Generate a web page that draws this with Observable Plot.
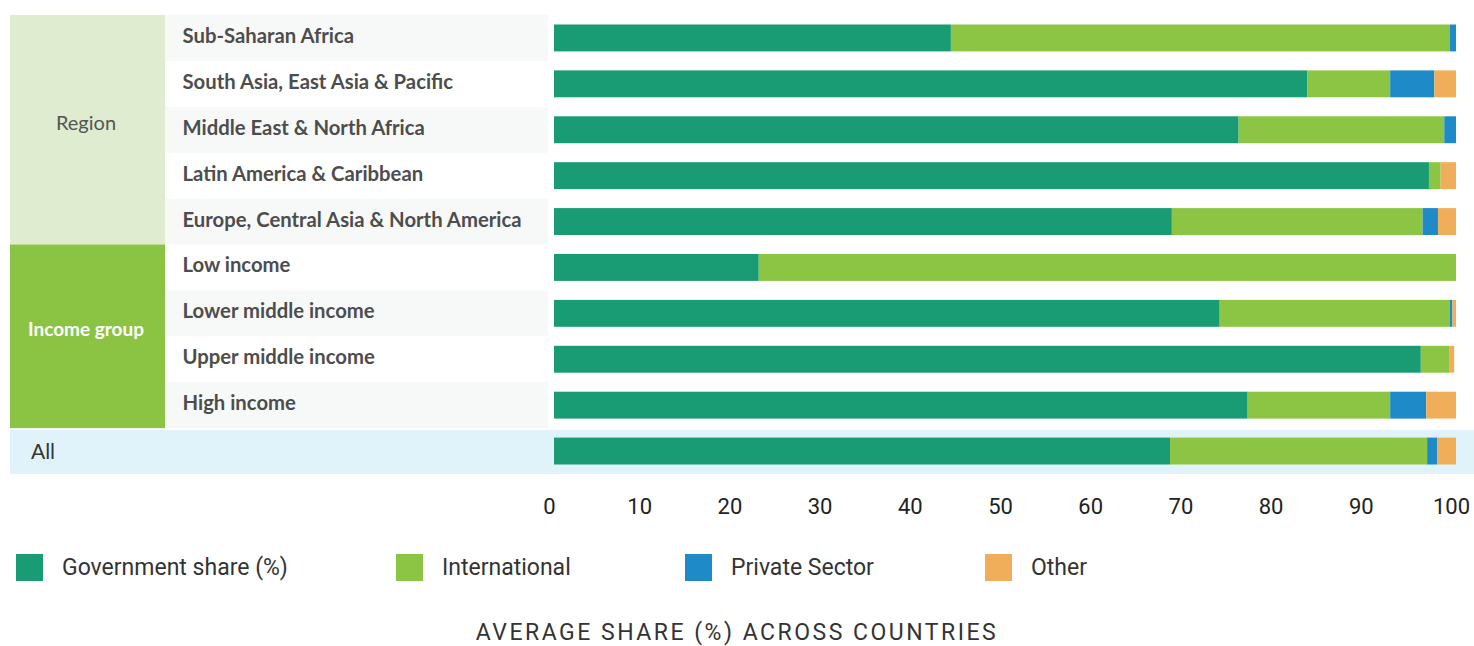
<!DOCTYPE html>
<html>
<head>
<meta charset="utf-8">
<script src="https://cdn.jsdelivr.net/npm/d3@7"></script>
<script src="https://cdn.jsdelivr.net/npm/@observablehq/plot@0.6"></script>
<style>
  html, body { margin: 0; padding: 0; background: #fff; }
  #wrap { position: relative; width: 1474px; height: 646px; overflow: hidden; }
  #chart { position: absolute; top: 0; left: 0; }
  #chart svg { display: block; }
  .legend { position: absolute; top: 554px; left: 0; width: 1474px; height: 28px; }
  .item { position: absolute; top: 0; display: flex; align-items: center; height: 27px; }
  .swatch { width: 27px; height: 27px; margin-right: 19px; }
  .item span { font-family: "Roboto", sans-serif; font-size: 23px; font-weight: 400; color: #333; }
  .title { position: absolute; top: 619px; left: 0; width: 1474px; text-align: center;
           font-family: "Roboto", sans-serif; font-size: 23px; letter-spacing: 2.5px; color: #333; }
</style>
</head>
<body>
<div id="wrap">
  <div id="chart"></div>
  <div class="legend" id="legend"></div>
  <div class="title">AVERAGE SHARE (%) ACROSS COUNTRIES</div>
</div>
<script>
// ---- data ----
const categories = [
  "Sub-Saharan Africa",
  "South Asia, East Asia & Pacific",
  "Middle East & North Africa",
  "Latin America & Caribbean",
  "Europe, Central Asia & North America",
  "Low income",
  "Lower middle income",
  "Upper middle income",
  "High income",
  "All"
];
const groups = ["Region", "Region", "Region", "Region", "Region",
  "Income group", "Income group", "Income group", "Income group", "All"];
const sources = ["Government share (%)", "International", "Private Sector", "Other"];
const government    = [44.0, 83.5, 75.9, 97.0, 68.5, 22.7, 73.8, 96.1, 76.9, 68.3];
const international = [55.3,  9.2, 22.8,  1.3, 27.8, 77.3, 25.5,  3.2, 15.8, 28.5];
const privateSector = [ 0.7,  4.9,  1.3,  0.0,  1.7,  0.0,  0.3,  0.0,  4.0,  1.1];
const other         = [ 0.0,  2.4,  0.0,  1.7,  2.0,  0.0,  0.4,  0.5,  3.3,  2.1];
const xTicks = [0, 10, 20, 30, 40, 50, 60, 70, 80, 90, 100];
const sourceColors = ["#199b74", "#8bc543", "#1f8ac8", "#f0ae5a"];

// ---- build table ----
const series = [government, international, privateSector, other];
const rows = categories.flatMap((c, i) =>
  sources.map((s, j) => ({category: c, source: s, value: series[j][i]})));

const W = 1474, marginLeft = 552, marginRight = 20, marginTop = 15, marginBottom = 62;
const H = 474 + marginBottom;

const groupStyle = {
  "Region": {bg: "#dfecd0", color: "#555", weight: 400, size: 20},
  "Income group": {bg: "#8bc443", color: "#fff", weight: 700, size: 19},
  "All": {bg: "#e0f2fa", color: "#333", weight: 400, size: 21}
};

// background + group column drawn from the y band scale
function tableBackground(index, scales, values, dimensions) {
  const y = scales.y;
  const step = (dimensions.height - dimensions.marginTop - dimensions.marginBottom) / categories.length;
  const g = d3.create("svg:g");
  categories.forEach((c, i) => {
    if (groups[i] !== "All" && i % 2 === 0) {
      g.append("rect").attr("x", 165).attr("width", 383)
        .attr("y", y(c)).attr("height", step).attr("fill", "#f7f9f9");
    }
  });
  const groupNames = Array.from(new Set(groups));
  for (const name of groupNames) {
    const members = categories.filter((c, i) => groups[i] === name);
    const y0 = y(members[0]);
    const y1 = y(members[members.length - 1]) + step;
    const st = groupStyle[name];
    if (name === "All") {
      g.append("rect").attr("x", 10).attr("width", W - 10)
        .attr("y", y0 + 2).attr("height", y1 - y0 - 2).attr("fill", st.bg);
      g.append("text").attr("x", 43).attr("y", (y0 + y1) / 2 + 1)
        .attr("dy", "0.35em").attr("fill", st.color)
        .attr("font-family", "Lato, sans-serif").attr("font-size", st.size)
        .attr("font-weight", st.weight).text(name);
    } else {
      g.append("rect").attr("x", 10).attr("width", 155)
        .attr("y", y0).attr("height", y1 - y0).attr("fill", st.bg);
      g.append("text").attr("x", 86).attr("y", (y0 + y1) / 2 - 7)
        .attr("dy", "0.35em").attr("text-anchor", "middle").attr("fill", st.color)
        .attr("font-family", "Lato, sans-serif").attr("font-size", st.size)
        .attr("font-weight", st.weight).text(name);
    }
  }
  return g.node();
}

const chart = Plot.plot({
  width: W,
  height: H,
  marginLeft, marginRight, marginTop, marginBottom,
  style: {background: "transparent", overflow: "visible"},
  x: {domain: [0, 100]},
  y: {domain: categories, padding: 0, round: false, axis: null},
  color: {domain: sources, range: sourceColors},
  marks: [
    tableBackground,
    Plot.text(categories.filter(c => c !== "All"), {
      y: d => d, text: d => d, frameAnchor: "left", textAnchor: "start",
      dx: -370, dy: -2, fontFamily: "Lato, sans-serif", fontWeight: 700, fontSize: 20.3, fill: "#4d4d4d"
    }),
    Plot.barX(rows, {
      x: "value", y: "category", fill: "source", order: sources,
      insetTop: 9.5, insetBottom: 9.5, dx: 2
    }),
    Plot.axisX({
      ticks: xTicks, tickSize: 0, tickPadding: 24, dx: -3, label: null,
      fill: "#222", fontSize: 22, fontFamily: "Roboto, sans-serif"
    })
  ]
});
document.getElementById("chart").appendChild(chart);

// legend
const legendLeft = [16, 396, 685, 985];
const legend = document.getElementById("legend");
sources.forEach((s, i) => {
  const it = document.createElement("div");
  it.className = "item";
  it.style.left = legendLeft[i] + "px";
  const sw = document.createElement("div");
  sw.className = "swatch";
  sw.style.background = sourceColors[i];
  const tx = document.createElement("span");
  tx.textContent = s;
  it.appendChild(sw); it.appendChild(tx);
  legend.appendChild(it);
});
</script>
</body>
</html>
